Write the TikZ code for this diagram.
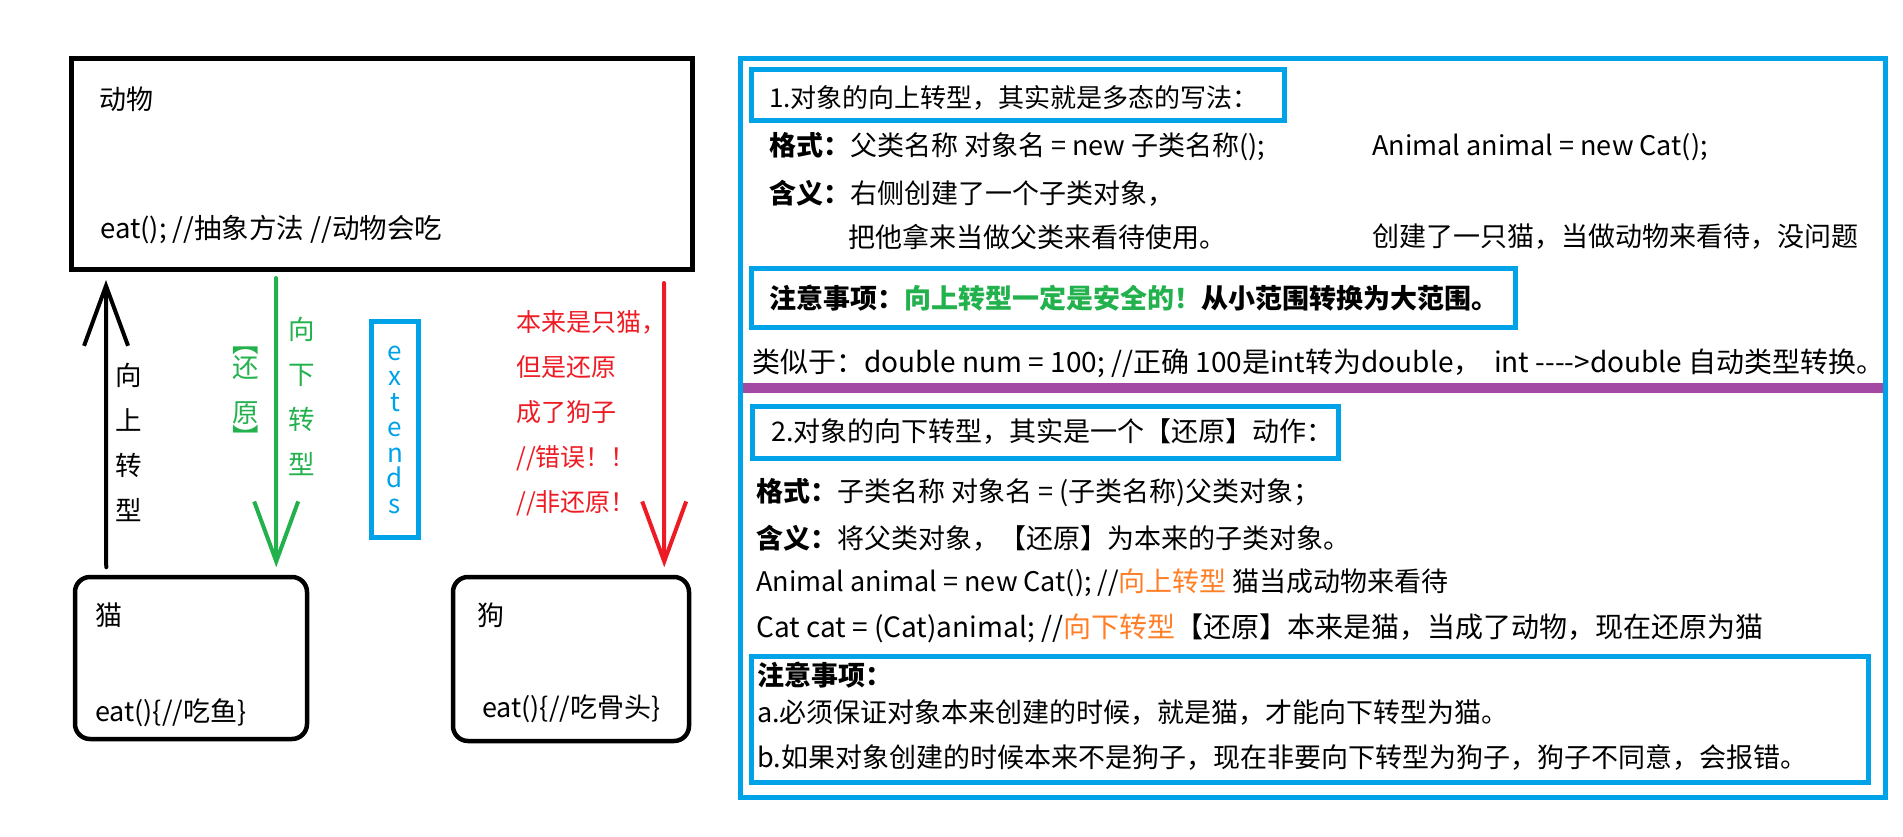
\documentclass[tikz,border=0pt]{standalone}
\usepackage{fontspec}
\setmainfont{Noto Sans CJK SC}
\usepackage{tikz}
\usetikzlibrary{arrows.meta,calc}
\definecolor{pBlue}{HTML}{00A2E8}
\definecolor{pGreen}{HTML}{22B14C}
\definecolor{pRed}{HTML}{ED1C24}
\definecolor{pPurple}{HTML}{A349A4}
\definecolor{pOrange}{HTML}{FF7F27}
\tikzset{
  % class boxes on the left
  cls/box/.style={draw=black, line width=5pt, inner sep=0pt},
  cls/sub/.style={cls/box, line width=4.5pt, rounded corners=15pt},
  % blue frames on the right
  note/frame/.style={draw=pBlue, line width=5pt, inner sep=0pt},
  % text
  txt/big/.style={anchor=west, inner sep=0pt, font=\fontsize{27}{31}\selectfont},
  txt/small/.style={anchor=west, inner sep=0pt, font=\fontsize{24}{28}\selectfont},
  txt/col/.style={align=center, inner sep=0pt, font=\fontsize{26.5}{45}\selectfont},
  % hand drawn arrows
  cast/arrow/.style={-{Straight Barb[length=60pt,width=44pt]}, line width=4pt,
    line cap=round, line join=round},
}

\begin{document}
\begin{tikzpicture}[x=1pt,y=-1pt]
  \useasboundingbox (0,0) rectangle (1903,837);
  % left: the class diagram
  \node[cls/box, minimum width=621pt, minimum height=210pt] (animal) at (381.5,164) {};
  \node[cls/sub, minimum width=232pt, minimum height=162pt] (cat) at (191,658) {};
  \node[cls/sub, minimum width=236pt, minimum height=164pt] (dog) at (571,659) {};
  \node[txt/big] (animalName) at (99,99) {动物};
  \node[txt/big, font=\fontsize{27.5}{31}\selectfont] (animalEat) at (100,230) {eat(); //抽象方法 //动物会吃};
  \node[txt/big] (catName) at (95,615) {猫};
  \node[txt/big] (catEat) at (95,713) {eat()\{//吃鱼\}};
  \node[txt/big] (dogName) at (477,615) {狗};
  \node[txt/big] (dogEat) at (482,709) {eat()\{//吃骨头\}};

  \draw[cast/arrow] ($(cat.north west)+(33.5,-7.5)$) -- ($(animal.south west)+(37.5,8.5)$);
  \draw[cast/arrow, draw=pGreen] ($(animal.south west)+(207.5,6.5)$) -- ($(cat.north west)+(203.5,-7.5)$);
  \draw[cast/arrow, draw=pRed] ($(animal.south west)+(595.5,11.5)$) -- ($(dog.north west)+(213.5,-7.5)$);

  \node[txt/col] (upLbl) at (129,442) {向\\上\\转\\型};
  \node[txt/col, text=pGreen] (downLbl) at (302,396) {向\\下\\转\\型};
  \node[txt/col, text=pGreen] (backLbl) at (246,397) {︻\\[-20pt]还\\原\\[-20pt]︼};
  \node[note/frame, text=pBlue, align=center, minimum width=47pt, minimum height=216pt,
        font=\fontsize{26}{25.5}\selectfont] (ext) at (395,429.5) {e\\x\\t\\e\\n\\d\\s};
  \node[txt/small, text=pRed, align=left, font=\fontsize{25}{45}\selectfont] (wrong) at (516,413)
       {本来是只猫，\\但是还原\\成了狗子\\//错误！！\\//非还原！};

  % right: the notes
  \node[note/frame, minimum width=1145pt, minimum height=738pt] (panel) at (1312.5,428) {};
  \node[note/frame, minimum width=533pt, minimum height=51pt] (upBox) at (1017.5,95.5) {};
  \node[note/frame, minimum width=764pt, minimum height=59pt] (upNote) at (1133,297.5) {};
  \node[note/frame, minimum width=586pt, minimum height=52pt] (downBox) at (1045,432) {};
  \node[note/frame, minimum width=1117pt, minimum height=126pt] (downNote) at (1309.5,719) {};
  \coordinate (sepY) at (0,388);
  \draw[pPurple, line width=10pt] ($(panel.west |- sepY)+(5,0)$) -- ($(panel.east |- sepY)+(-5,0)$);

  \node[txt/big, font=\fontsize{26}{30}\selectfont] (upTitle) at (769,98) {1.对象的向上转型，其实就是多态的写法：};
  \node[txt/big] (upFmt) at (769,147) {\textbf{格式：}父类名称 对象名 = new 子类名称();};
  \node[txt/big] (upCode) at (1372,147) {Animal animal = new Cat();};
  \node[txt/big] (upMean) at (769,193) {\textbf{含义：}右侧创建了一个子类对象，};
  \node[txt/big] (upMean2) at (848,237) {把他拿来当做父类来看待使用。};
  \node[txt/big] (upCat) at (1372,237) {创建了一只猫，当做动物来看待，没问题};
  \node[txt/big] (upWarn) at (769,298)
       {\textbf{注意事项：\textcolor{pGreen}{向上转型一定是安全的！}从小范围转换为大范围。}};
  \node[txt/big, font=\fontsize{28}{32}\selectfont] (likeNum) at (752,363)
       {类似于：double num = 100; //正确 100是int转为double，\ \ int -{}-{}-{}->double 自动类型转换。};

  \node[txt/big] (downTitle) at (771,432) {2.对象的向下转型，其实是一个【还原】动作：};
  \node[txt/big] (downFmt) at (756,493) {\textbf{格式：}子类名称 对象名 = (子类名称)父类对象；};
  \node[txt/big] (downMean) at (756,538) {\textbf{含义：}将父类对象，【还原】为本来的子类对象。};
  \node[txt/big] (downCode1) at (756,583)
       {Animal animal = new Cat(); //\textcolor{pOrange}{向上转型} 猫当成动物来看待};
  \node[txt/big, font=\fontsize{28}{32}\selectfont] (downCode2) at (756,628)
       {Cat cat = (Cat)animal; //\textcolor{pOrange}{向下转型}【还原】本来是猫，当成了动物，现在还原为猫};
  \node[txt/big] (downWarn) at (757,675) {\textbf{注意事项：}};
  \node[txt/big] (downA) at (757,713) {a.必须保证对象本来创建的时候，就是猫，才能向下转型为猫。};
  \node[txt/big] (downB) at (757,757)
       {b.如果对象创建的时候本来不是狗子，现在非要向下转型为狗子，狗子不同意，会报错。};
\end{tikzpicture}
\end{document}
